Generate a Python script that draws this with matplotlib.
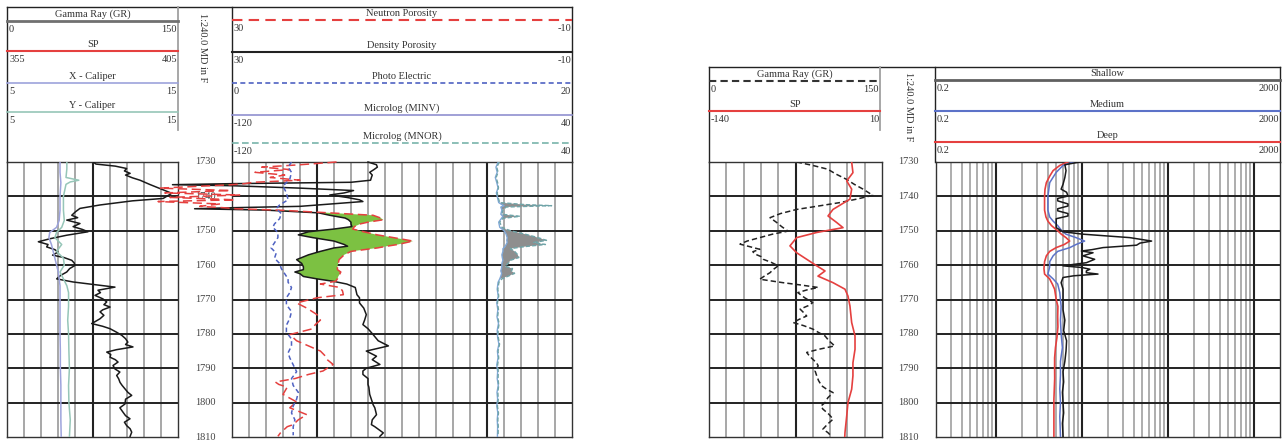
import numpy as np
import matplotlib
matplotlib.use('Agg')
import matplotlib.pyplot as plt

plt.rcParams['font.family'] = ['Liberation Serif', 'DejaVu Serif']

W, H = 1283, 441
TOP_DEPTH, BASE_DEPTH = 1730, 1810
depth_ticks = list(range(1730, 1811, 10))

# ---------------- well A : gamma ray / calipers ----------------
gr_depth = [1730.0, 1730.6, 1731.2, 1731.9, 1732.6, 1733.3, 1733.8, 1734.6, 1735.3, 1736.5,
            1737.7, 1739.1, 1739.8, 1740.6, 1741.3, 1742.5, 1743.5, 1744.5, 1745.5, 1746.2,
            1746.9, 1747.9, 1748.8, 1749.6, 1750.3, 1751.3, 1752.3, 1753.2, 1754.0, 1754.7,
            1755.5, 1756.2, 1757.1, 1757.8, 1758.6, 1759.4, 1760.1, 1761.0, 1762.0, 1763.0,
            1764.0, 1764.9, 1765.6, 1766.4, 1767.3, 1768.0, 1768.8, 1769.8, 1770.7, 1771.5,
            1772.2, 1773.0, 1773.6, 1774.6, 1775.6, 1776.3, 1777.0, 1777.8, 1778.5, 1779.5,
            1780.4, 1781.4, 1782.4, 1783.1, 1783.8, 1784.6, 1785.3, 1786.0, 1786.8, 1787.5,
            1788.2, 1789.2, 1790.2, 1791.1, 1792.1, 1793.1, 1794.1, 1795.0, 1796.0, 1797.0,
            1797.9, 1799.0, 1800.4, 1801.5, 1802.8, 1803.8, 1804.7, 1805.7, 1806.7, 1807.6,
            1808.6, 1809.8]
gr_api = [75.7, 78, 95, 105, 103, 108, 104, 110, 116.7, 125,
          134, 144.5, 141, 137, 110, 81.6, 64, 60, 56.8, 62,
          52.4, 64, 58, 66, 71, 52.4, 38, 27.5, 36, 34.8,
          42, 44.7, 40, 50, 56.8, 59, 59.6, 55, 52.4, 47,
          43.6, 57.9, 75, 94.7, 79.8, 82, 77.2, 84, 87.5, 85,
          90.4, 84, 81.6, 85, 81.6, 78, 74.3, 84, 90.4, 96,
          100.6, 104, 106, 104, 110.5, 96, 87.5, 91, 90.4, 95,
          97.4, 93, 94.7, 99, 96.2, 98, 99.1, 101, 103.5, 106,
          109.4, 104, 103.5, 99, 101.8, 104, 107.9, 103, 105, 108,
          109.4, 108]

calx_depth = [1730, 1733, 1736, 1740, 1744, 1747, 1749, 1750.5, 1752, 1754, 1756, 1758, 1760,
              1762, 1764, 1766, 1770, 1775, 1780, 1785, 1790, 1795, 1800, 1805, 1810]
calx_in = [8.1, 8.1, 8.15, 8.1, 8.1, 8.05, 7.9, 7.5, 7.45, 7.6, 7.7, 7.8, 7.9,
           8.0, 8.05, 8.1, 8.1, 8.1, 8.1, 8.12, 8.12, 8.15, 8.15, 8.15, 8.17]
caly_depth = [1730, 1732, 1734.5, 1735.3, 1735.8, 1736.5, 1740, 1744, 1747, 1749, 1750.5,
              1752, 1754, 1756, 1758, 1760, 1762, 1764, 1766, 1768, 1772, 1776, 1780, 1785,
              1790, 1795, 1800, 1805, 1810]
caly_in = [8.5, 8.5, 8.45, 9.2, 8.7, 8.45, 8.3, 8.3, 8.35, 8.2, 7.9,
           7.8, 8.2, 7.9, 8.3, 8.35, 8.1, 8.3, 8.5, 8.6, 8.6, 8.55, 8.6, 8.62,
           8.65, 8.6, 8.62, 8.7, 8.65]

# ---------------- well A : porosity / PE ----------------
por_depth = [1730.0, 1730.8, 1731.5, 1732.2, 1733.0, 1733.8, 1734.5, 1735.3, 1735.9, 1736.3,
             1736.6, 1736.9, 1737.6, 1738.3, 1739.0, 1739.6, 1740.3, 1741.0, 1741.5, 1742.2,
             1742.9, 1743.3, 1743.6, 1744.0, 1744.8, 1745.5, 1746.3, 1746.8, 1747.5, 1748.0,
             1748.8, 1749.5, 1750.3, 1751.2, 1752.0, 1753.0, 1754.0, 1754.5, 1755.0, 1756.0,
             1757.0, 1758.4, 1759.5, 1760.5, 1761.3, 1762.0, 1762.5, 1763.3, 1764.0, 1764.7,
             1765.5, 1766.5, 1767.5, 1768.6, 1769.5, 1771.0, 1772.5, 1774.4, 1776.0, 1777.3,
             1778.5, 1780.2, 1782.0, 1783.5, 1785.0, 1786.5, 1787.5, 1788.9, 1790.0, 1790.8,
             1791.8, 1793.0, 1794.0, 1794.7, 1795.5, 1797.6, 1799.8, 1800.6, 1801.5, 1803.5,
             1805.0, 1806.4, 1807.0, 1808.8, 1809.8]
dphi = [14.0, 13.0, 12.9, 13.3, 13.8, 13.5, 13.6, 13.7, 16.0, 30.0,
        37.0, 30.0, 22.0, 15.7, 16.8, 18.5, 16.5, 15.0, 14.6, 18.3,
        22.0, 30.0, 34.4, 26.0, 19.8, 18.5, 16.7, 16.3, 16.0, 16.0,
        15.9, 18.0, 21.0, 22.2, 20.5, 18.0, 16.8, 16.4, 18.0, 19.6,
        21.0, 22.4, 21.8, 21.6, 21.6, 22.6, 22.0, 21.6, 20.0, 18.1,
        16.5, 15.5, 15.4, 15.3, 15.0, 15.0, 14.5, 14.2, 14.4, 14.6,
        14.0, 13.4, 12.8, 11.6, 14.2, 13.0, 13.5, 12.6, 14.2, 14.6,
        14.6, 14.0, 14.0, 14.0, 13.9, 13.8, 13.5, 13.4, 13.2, 13.0,
        13.5, 13.6, 13.2, 12.2, 12.6]
nphi = [17.7, 22.0, 26.5, 23.2, 27.3, 23.8, 25.5, 22.0, 27.5, 28.5,
        30.0, 32.5, 38.5, 30.2, 37.9, 29.1, 37.3, 29.6, 38.7, 31.4,
        33.8, 31.0, 29.5, 24.4, 18.5, 13.4, 12.5, 12.2, 14.0, 14.9,
        15.6, 15.8, 14.5, 12.9, 11.0, 8.7, 10.5, 11.8, 12.9, 16.0,
        16.8, 17.4, 17.5, 17.6, 17.6, 17.2, 17.3, 17.5, 17.6, 17.8,
        19.6, 17.3, 17.0, 16.9, 20.0, 22.4, 21.2, 20.0, 19.6, 20.2,
        20.5, 23.2, 22.4, 21.0, 19.6, 19.0, 18.8, 18.1, 18.8, 19.3,
        21.0, 22.6, 24.9, 24.5, 23.5, 24.0, 22.4, 22.8, 23.2, 21.2,
        22.2, 22.8, 23.5, 24.3, 24.6]

pe_depth = [1730, 1731.5, 1733, 1735, 1737, 1739, 1741, 1742.5, 1743.5, 1745, 1746.5, 1748,
            1749, 1750.5, 1752, 1753.5, 1755, 1756.5, 1758, 1759.5, 1761, 1762.5, 1764, 1765,
            1766.5, 1768, 1769.5, 1771.5, 1773.5, 1775.5, 1777.5, 1779.5, 1781.5, 1783.5,
            1785.5, 1787, 1789, 1791, 1793, 1795, 1797, 1799, 1801, 1803, 1805, 1807, 1809.5]
pe_val = [3.5, 3.3, 3.5, 3.4, 3.0, 3.2, 3.3, 2.8, 2.6, 2.9, 2.8, 2.5,
          2.4, 2.7, 2.7, 2.5, 2.3, 2.6, 2.5, 2.8, 2.9, 3.1, 3.3, 3.3,
          3.5, 3.4, 3.2, 3.2, 3.5, 3.4, 3.2, 3.2, 3.5, 3.5,
          3.3, 3.4, 3.6, 3.8, 3.5, 3.6, 3.9, 3.8, 3.6, 3.5, 3.7, 3.6, 3.6]

# ---------------- well A : micrologs ----------------
mlog_depth = [1730, 1731.5, 1733, 1734.5, 1736, 1737.5, 1739, 1740.5, 1741.8, 1742.4,
              1742.7, 1743.1, 1744, 1745.2, 1745.8, 1746.4, 1747.5, 1749, 1750, 1751,
              1752, 1752.8, 1753.4, 1754, 1754.6, 1755.2, 1756, 1757, 1757.8, 1758.6,
              1759.5, 1760.3, 1761, 1761.7, 1762.4, 1763.2, 1764, 1765, 1767, 1769,
              1771, 1773, 1775, 1777, 1779, 1781, 1783, 1785, 1787, 1789,
              1791, 1793, 1795, 1797, 1799, 1801, 1803, 1805, 1807, 1809.8]
minv = [5.3, 4.2, 4.8, 3.9, 4.6, 5.2, 4.4, 5.0, 5.5, 7.0,
        8.0, 6.5, 7.0, 6.5, 7.5, 6.8, 5.5, 6.0, 8.0, 9.0,
        9.5, 9.3, 9.5, 9.0, 8.5, 7.5, 7.5, 7.0, 7.2, 7.5,
        7.0, 7.0, 6.8, 6.5, 6.9, 6.5, 6.0, 5.2, 4.8, 5.3,
        4.6, 5.1, 4.7, 5.4, 4.8, 5.0, 5.6, 4.9, 5.2, 4.6,
        5.0, 4.8, 5.3, 4.7, 5.0, 4.6, 5.1, 4.8, 5.0, 4.9]
mnor = [5.8, 4.6, 5.2, 4.3, 5.0, 5.4, 4.8, 5.3, 6.0, 18.0,
        30.4, 9.0, 7.5, 7.0, 15.5, 7.5, 6.0, 7.0, 11.0, 18.0,
        24.0, 28.0, 22.0, 27.5, 18.0, 11.0, 13.0, 14.5, 15.0, 11.0,
        10.0, 8.5, 12.0, 11.5, 13.0, 10.0, 7.0, 5.6, 5.1, 5.5,
        4.9, 5.4, 5.0, 5.7, 5.2, 5.3, 5.9, 5.2, 5.5, 5.0,
        5.3, 5.2, 5.5, 5.1, 5.3, 4.9, 5.4, 5.1, 5.3, 5.2]

# ---------------- well B : gamma ray / SP ----------------
grb_depth = [1730.0, 1731.0, 1732.1, 1733.5, 1735.0, 1736.5, 1737.9, 1739.7, 1740.8, 1741.8,
             1742.8, 1743.8, 1745.0, 1746.2, 1747.6, 1748.8, 1750.1, 1751.0, 1752.0, 1753.0,
             1753.9, 1754.6, 1755.4, 1756.1, 1756.8, 1757.5, 1758.3, 1759.2, 1760.2, 1761.2,
             1762.2, 1763.2, 1764.1, 1765.1, 1765.8, 1766.5, 1767.2, 1768.0, 1769.5, 1770.9,
             1771.8, 1772.8, 1773.8, 1774.8, 1775.8, 1776.7, 1777.6, 1778.6, 1779.6, 1780.6,
             1782.0, 1783.5, 1784.5, 1785.4, 1786.4, 1787.4, 1788.3, 1789.3, 1790.8, 1792.2,
             1793.6, 1795.1, 1796.1, 1797.1, 1798.6, 1800.0, 1801.0, 1801.9, 1803.4, 1804.8,
             1806.2, 1807.7, 1808.7, 1809.7]
grb_api = [76, 90, 103, 110, 119, 126, 133.6, 142, 128, 113.6,
           95, 76, 62, 52.9, 58.7, 63, 68.5, 55, 44, 33,
           26.9, 35, 44, 38, 40, 45, 47, 54, 60, 56,
           52.9, 48, 44, 64, 80, 94.7, 85, 77, 83, 90,
           86, 79, 82, 84.7, 78, 73, 82, 90, 95, 100.6,
           104, 109, 95, 84.7, 87, 90, 93, 94.7, 92, 93.4,
           95, 97.7, 102, 107.6, 103, 100.6, 97, 98.8, 104, 107.6,
           103, 98.8, 103, 106]

sp_depth = [1730, 1733.1, 1735.5, 1737.9, 1740.8, 1743.8, 1745.7, 1747.6, 1749.1, 1750.5,
            1752, 1754.4, 1756.4, 1758.3, 1760.2, 1761.7, 1763.2, 1765.1, 1767, 1769,
            1771.9, 1776.7, 1780.6, 1784.5, 1788.4, 1792.2, 1796.1, 1800, 1803.9, 1808.7, 1810]
sp_mv = [-16.3, -15.2, -20.6, -16.3, -17.8, -32.5, -36.8, -29.3, -23.8, -46.6,
         -64.0, -69.8, -64.0, -55.3, -46.6, -39.4, -45.5, -32.5, -22.1, -19.5,
         -17.8, -16.3, -13.4, -13.4, -15.2, -15.2, -16.3, -19.5, -20.6, -22.1, -22.3]

# ---------------- well B : resistivity ----------------
shal_depth = [1730.0, 1730.8, 1732.5, 1734.5, 1736.5, 1737.9, 1738.8, 1739.9, 1740.6, 1741.3,
              1742.2, 1742.8, 1743.6, 1744.2, 1745.0, 1745.7, 1746.5, 1747.2, 1749.1, 1750.3,
              1751.0, 1752.0, 1753.0, 1753.6, 1754.2, 1754.9, 1755.5, 1755.9, 1756.4, 1757.3,
              1758.3, 1759.3, 1760.2, 1760.7, 1761.2, 1761.7, 1762.2, 1762.6, 1763.1, 1763.6,
              1765.1, 1767, 1770, 1773, 1776, 1779, 1782, 1785, 1788, 1791,
              1794, 1797, 1800, 1803, 1806, 1809.8]
shal_ohm = [9.4, 6.3, 6.5, 6.3, 6.0, 5.7, 6.6, 6.85, 5.2, 5.2,
            6.85, 6.85, 5.2, 5.2, 6.85, 6.85, 5.0, 5.0, 5.0, 6.0,
            10.25, 35.9, 64.3, 47.0, 43.0, 17.5, 13.0, 9.8, 13.4, 10.2,
            14.0, 11.2, 6.0, 10.0, 12.3, 11.2, 11.2, 15.3, 8.0, 6.0,
            5.7, 6.0, 6.0, 6.0, 6.3, 6.1, 6.6, 6.5, 6.3, 6.0,
            6.1, 5.9, 6.0, 6.1, 5.9, 6.0]
med_depth = [1730, 1731, 1733, 1736, 1740, 1744, 1746, 1747.2, 1748.5, 1750, 1751, 1752,
             1753, 1754, 1754.9, 1756, 1757.3, 1759, 1760.6, 1762.6, 1764, 1765.5, 1768,
             1772, 1776, 1780, 1784, 1788, 1792, 1796, 1800, 1804, 1809.8]
med_ohm = [8.0, 6.0, 5.0, 4.2, 4.0, 4.0, 4.2, 4.6, 5.2, 5.8, 6.5, 8.5,
           10.7, 8.5, 7.2, 5.2, 4.6, 4.2, 4.19, 4.0, 4.6, 5.2, 5.5,
           5.7, 5.6, 5.7, 5.9, 5.6, 5.6, 5.5, 5.6, 5.5, 5.6]
deep_depth = [1730, 1731, 1732.5, 1734.1, 1736, 1738, 1740, 1742, 1744, 1746, 1747.2,
              1748.5, 1750, 1751, 1752, 1753, 1754, 1754.9, 1756, 1757.3, 1759, 1761,
              1762.6, 1764, 1765.5, 1767, 1770, 1772, 1775, 1778, 1781, 1784, 1787,
              1790, 1793, 1796, 1799, 1802, 1805, 1809.8]
deep_ohm = [6.85, 5.5, 4.6, 4.2, 3.84, 3.7, 3.66, 3.66, 3.66, 3.8, 4.0,
            4.4, 5.2, 5.73, 6.5, 7.17, 6.2, 5.0, 4.2, 3.84, 3.66, 3.6,
            3.66, 4.19, 4.5, 4.79, 5.0, 5.23, 5.2, 5.23, 5.1, 4.9, 4.79,
            4.79, 4.8, 4.75, 4.7, 4.7, 4.7, 4.7]

RED = '#e5403f'
TXT = '#333333'
FS = 7.5


def px_axes(fig, x0, y0, x1, y1):
    # axes placed by pixel box (top-left origin)
    return fig.add_axes([x0 / W, 1 - y1 / H, (x1 - x0) / W, (y1 - y0) / H])


def grid_track(fig, x0, x1, ndiv, bold, log=False):
    ax = px_axes(fig, x0, 162, x1, 437)
    ax.set_facecolor('none')
    ax.set_ylim(BASE_DEPTH, TOP_DEPTH)
    if log:
        ax.set_xscale('log')
        ax.set_xlim(0.2, 2000)
        for dec in [0.1, 1, 10, 100, 1000]:
            for m in range(2, 10):
                v = dec * m
                if 0.2 < v < 2000:
                    ax.axvline(v, color='#a0a0a0', lw=1.2, zorder=1)
        for v in [1, 10, 100, 1000]:
            ax.axvline(v, color='#222222', lw=1.5, zorder=1)
    else:
        ax.set_xlim(0, ndiv)
        for i in range(1, ndiv):
            if i in bold:
                ax.axvline(i, color='#222222', lw=1.5, zorder=1)
            else:
                ax.axvline(i, color='#a0a0a0', lw=1.3, zorder=1)
    for d in depth_ticks[1:-1]:
        ax.axhline(d, color='#222222', lw=1.4, zorder=1)
    ax.set_xticks([], minor=True)
    ax.set_xticks([])
    ax.set_yticks([])
    for s in ax.spines.values():
        s.set_color('#333333')
        s.set_linewidth(1)
    return ax


def curve_axes(ax, lo, hi):
    c = ax.twiny()
    c.set_xlim(lo, hi)
    c.set_ylim(BASE_DEPTH, TOP_DEPTH)
    c.axis('off')
    return c


def depth_column(fig, x0, x1):
    ax = px_axes(fig, x0, 162, x1, 437)
    ax.set_xlim(0, 1)
    ax.set_ylim(BASE_DEPTH, TOP_DEPTH)
    ax.axis('off')
    for d in depth_ticks:
        ax.text(0.5, d, str(d), ha='center', va='center', fontsize=FS, color='#444444',
                clip_on=False)
    return ax


fig = plt.figure(figsize=(W / 100, H / 100), dpi=100)

# header layer in pixel coordinates
hd = fig.add_axes([0, 0, 1, 1], zorder=-1)
hd.set_xlim(0, W)
hd.set_ylim(H, 0)
hd.axis('off')


def header_curve(x0, x1, y, name, lo, hi, color, ls='-', lw=1.5):
    hd.text((x0 + x1) / 2, y - 6.5, name, ha='center', va='center', fontsize=FS, color=TXT)
    hd.plot([x0, x1], [y, y], color=color, ls=ls, lw=lw)
    hd.text(x0 + 2, y + 8.5, lo, ha='left', va='center', fontsize=FS, color=TXT)
    hd.text(x1 - 1, y + 8.5, hi, ha='right', va='center', fontsize=FS, color=TXT)


# ---- left panel header ----
hd.plot([7, 572], [7, 7], color='#222222', lw=1)
for xb in [7, 232, 572]:
    hd.plot([xb, xb], [7, 162], color='#222222', lw=1)
hd.plot([178, 178], [7, 130], color='#a0a0a0', lw=1.3)
header_curve(7, 178, 21, 'Gamma Ray (GR)', '0', '150', '#707070', lw=2)
header_curve(7, 178, 51, 'SP', '355', '405', RED)
header_curve(7, 178, 83, 'X - Caliper', '5', '15', '#9da3dc', lw=1.2)
header_curve(7, 178, 112, 'Y - Caliper', '5', '15', '#96c6b8', lw=1.2)
hd.text(203, 48, '1:240.0 MD in F', rotation=-90, ha='center', va='center',
        fontsize=FS, color=TXT)
header_curve(232, 572, 20, 'Neutron Porosity', '30', '-10', RED, ls=(0, (5, 3)))
header_curve(232, 572, 52, 'Density Porosity', '30', '-10', '#222222')
header_curve(232, 572, 83, 'Photo Electric', '0', '20', '#4f62c2', ls=(0, (3, 2)), lw=1.2)
header_curve(232, 572, 115, 'Microlog (MINV)', '-120', '40', '#9090d0', lw=1.2)
header_curve(232, 572, 143, 'Microlog (MNOR)', '-120', '40', '#78b4aa', ls=(0, (4, 2)), lw=1.2)

# ---- right panel header ----
hd.plot([709, 1280], [67, 67], color='#222222', lw=1)
for xb in [709, 935, 1280]:
    hd.plot([xb, xb], [67, 162], color='#222222', lw=1)
hd.plot([880, 880], [67, 130], color='#a0a0a0', lw=1.3)
header_curve(709, 880, 81, 'Gamma Ray (GR)', '0', '150', '#333333', ls=(0, (3.5, 2)), lw=1.5)
header_curve(709, 880, 111, 'SP', '-140', '10', RED)
hd.text(908, 107, '1:240.0 MD in F', rotation=-90, ha='center', va='center',
        fontsize=FS, color=TXT)
header_curve(935, 1280, 80, 'Shallow', '0.2', '2000', '#606060', lw=2)
header_curve(935, 1280, 111, 'Medium', '0.2', '2000', '#5c72c8')
header_curve(935, 1280, 142, 'Deep', '0.2', '2000', RED)

# ---- well A, track 1 ----
t1 = grid_track(fig, 7, 178, 10, [5])
c_gr = curve_axes(t1, 0, 150)
c_gr.plot(gr_api, gr_depth, color='#1a1a1a', lw=1.1)
c_cal = curve_axes(t1, 5, 15)
c_cal.plot(calx_in, calx_depth, color='#9da3dc', lw=1.1)
c_cal.plot(caly_in, caly_depth, color='#96c6b8', lw=1.1)

depth_column(fig, 178, 232)

# ---- well A, track 2 ----
t2 = grid_track(fig, 232, 572, 20, [5, 15])
c_por = curve_axes(t2, 30, -10)
c_por.fill_betweenx(por_depth, nphi, dphi, where=np.array(nphi) < np.array(dphi),
                    interpolate=True, color='#7cc142', lw=0, clip_on=False)
c_por.plot(dphi, por_depth, color='#1a1a1a', lw=1.1, clip_on=False)
c_por.plot(nphi, por_depth, color=RED, lw=1.1, ls=(0, (6, 3)), clip_on=False)
c_pe = curve_axes(t2, 0, 20)
c_pe.plot(pe_val, pe_depth, color='#4f62c2', lw=1.1, ls=(0, (3, 2)))
c_ml = curve_axes(t2, -120, 40)
c_ml.fill_betweenx(mlog_depth, minv, mnor,
                   where=(np.array(mnor) - np.array(minv)) > 1.0,
                   interpolate=True, color='#8e8e8e', lw=0)
c_ml.plot(minv, mlog_depth, color='#80a8d8', lw=1.0)
c_ml.plot(mnor, mlog_depth, color='#6fa4a8', lw=1.0, ls=(0, (3, 1.5)))

# ---- well B, track 1 ----
r1 = grid_track(fig, 709, 882, 10, [5])
c_grb = curve_axes(r1, 0, 150)
c_grb.plot(grb_api, grb_depth, color='#222222', lw=1.1, ls=(0, (3.5, 2)))
c_sp = curve_axes(r1, -140, 10)
c_sp.plot(sp_mv, sp_depth, color=RED, lw=1.2)

depth_column(fig, 882, 935)

# ---- well B, resistivity ----
r2 = grid_track(fig, 936, 1280, 0, [], log=True)
r2.plot(deep_ohm, deep_depth, color=RED, lw=1.2, zorder=3)
r2.plot(med_ohm, med_depth, color='#5c72c8', lw=1.1, zorder=3)
r2.plot(shal_ohm, shal_depth, color='#1a1a1a', lw=1.1, zorder=4)

fig.savefig('out.png', dpi=100)
